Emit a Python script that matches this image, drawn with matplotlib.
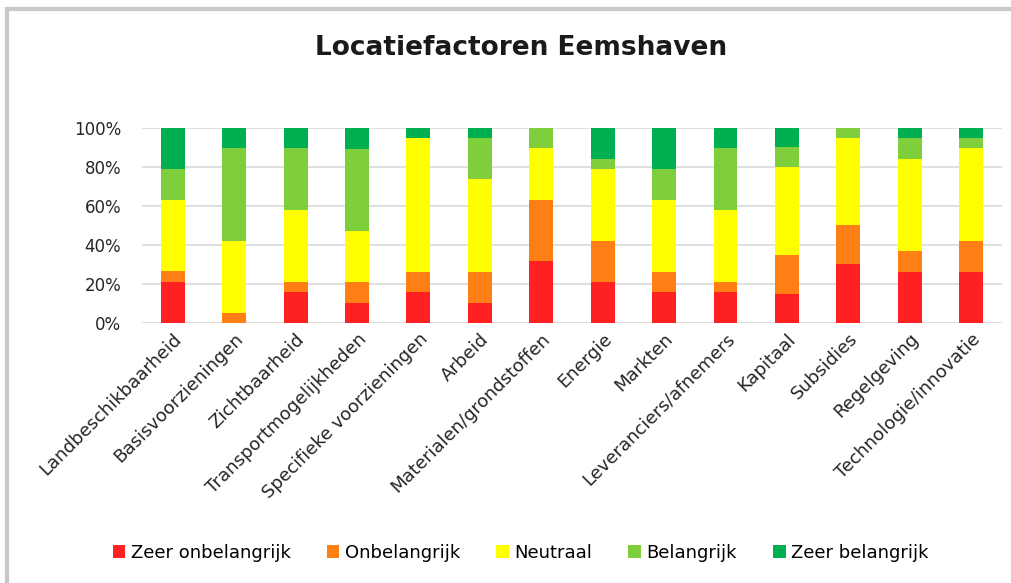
import matplotlib
matplotlib.use('Agg')
import matplotlib.pyplot as plt
import numpy as np
from matplotlib.patches import Rectangle

plt.rcParams['font.family'] = ['DejaVu Sans']

categories = ['Landbeschikbaarheid', 'Basisvoorzieningen', 'Zichtbaarheid',
              'Transportmogelijkheden', 'Specifieke voorzieningen', 'Arbeid',
              'Materialen/grondstoffen', 'Energie', 'Markten',
              'Leveranciers/afnemers', 'Kapitaal', 'Subsidies', 'Regelgeving',
              'Technologie/innovatie']

# percentages per answer
zeer_onbelangrijk = [21.1, 0, 15.8, 10.5, 15.8, 10.5, 31.6, 21.1, 15.8, 15.8, 15, 30, 26.3, 26.3]
onbelangrijk = [5.3, 5.3, 5.3, 10.5, 10.5, 15.8, 31.6, 21.1, 10.5, 5.3, 20, 20, 10.5, 15.8]
neutraal = [36.8, 36.8, 36.8, 26.3, 68.4, 47.4, 26.3, 36.8, 36.8, 36.8, 45, 45, 47.4, 47.4]
belangrijk = [15.8, 47.4, 31.6, 42.1, 0, 21.1, 10.5, 5.3, 15.8, 31.6, 10, 5, 10.5, 5.3]
zeer_belangrijk = [21.1, 10.5, 10.5, 10.5, 5.3, 5.3, 0, 15.8, 21.1, 10.5, 10, 0, 5.3, 5.3]

series = [zeer_onbelangrijk, onbelangrijk, neutraal, belangrijk, zeer_belangrijk]
labels = ['Zeer onbelangrijk', 'Onbelangrijk', 'Neutraal', 'Belangrijk', 'Zeer belangrijk']
colors = ['#ff2121', '#ff7f15', '#ffff00', '#7ecf3b', '#00b050']

fig = plt.figure(figsize=(10.11, 5.83), dpi=100)
ax = fig.add_axes([0.1405, 0.446, 0.8505, 0.3345])

x = np.arange(len(categories))
bottom = np.zeros(len(categories))
for vals, lab, col in zip(series, labels, colors):
    ax.bar(x, vals, 0.39, bottom=bottom, color=col, label=lab, zorder=2)
    bottom += np.array(vals)

ax.set_xlim(-0.5, len(categories) - 0.5)
ax.set_ylim(0, 100)
ax.set_yticks(range(0, 101, 20))
ax.set_yticklabels([f'{v}%' for v in range(0, 101, 20)], fontsize=12, color='#262626')
ax.yaxis.grid(True, color='#d9d9d9', linewidth=1.2, zorder=0)
ax.tick_params(length=0)
ax.tick_params(axis='y', pad=15)
for s in ax.spines.values():
    s.set_visible(False)

ax.set_xticks(x)
ax.set_xticklabels(categories, rotation=45, ha='right', rotation_mode='anchor',
                   fontsize=13, color='#262626')
ax.tick_params(axis='x', pad=5)

fig.text(0.515, 0.918, 'Locatiefactoren Eemshaven', ha='center', va='center',
         fontsize=19, fontweight='bold', color='#1a1a1a')

fig.legend(loc='center', bbox_to_anchor=(0.515, 0.052), ncol=5, frameon=False,
           fontsize=13, handlelength=0.7, handleheight=0.7, handletextpad=0.3,
           columnspacing=2.0)

# grey frame of the chart box
fig.patches.append(Rectangle((7 / 1011, -0.1), 1.2, (583 - 9) / 583 + 0.1,
                             transform=fig.transFigure, fill=False,
                             edgecolor='#c8c8c8', linewidth=3))

fig.savefig('out.png', dpi=100)
